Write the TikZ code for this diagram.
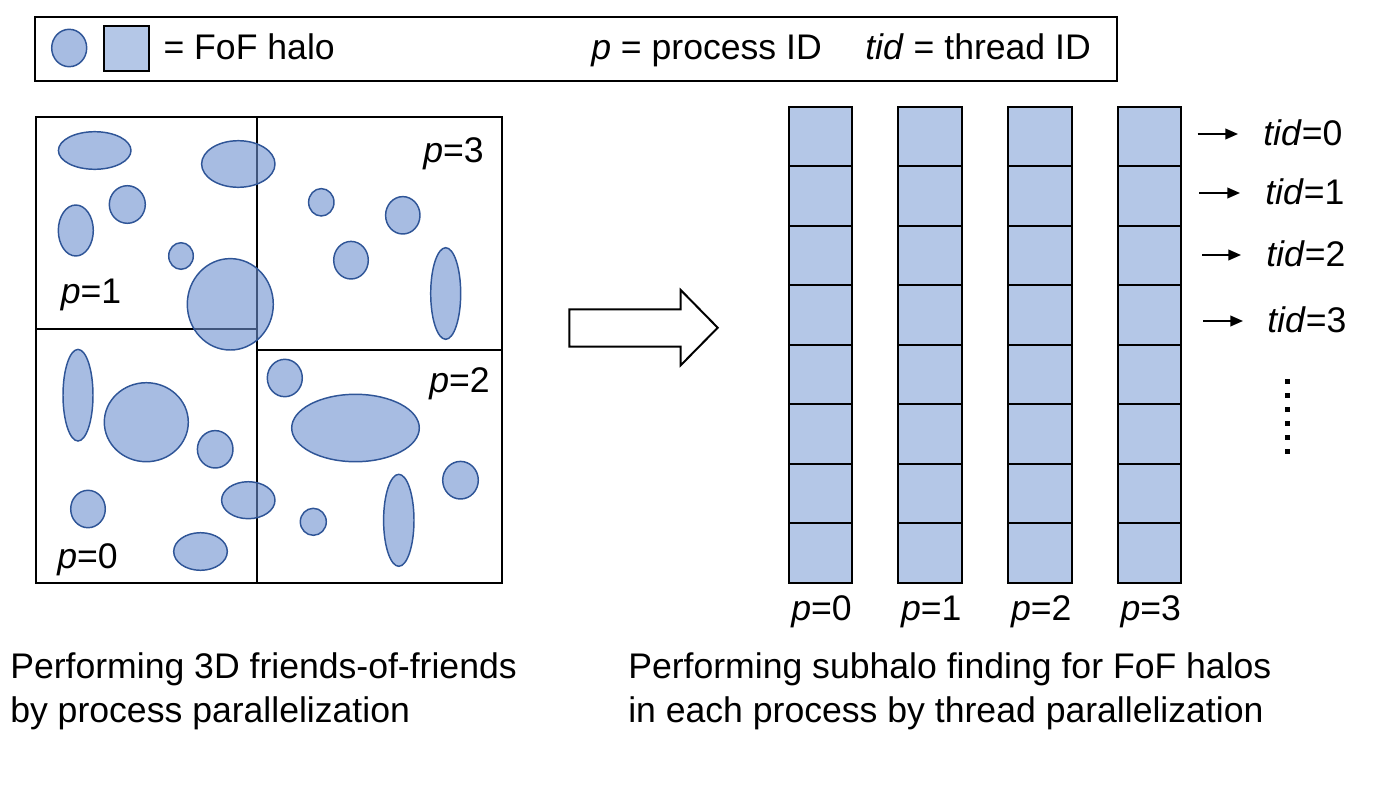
\documentclass[tikz,border=0pt]{standalone}
\usepackage{fontspec}
\setmainfont{Liberation Sans}
\usetikzlibrary{arrows.meta}
\definecolor{halofill}{HTML}{6C8FCF}
\definecolor{haloline}{HTML}{2F5597}
\definecolor{cellfill}{HTML}{B4C7E7}
\tikzset{
  halo/.style={draw=haloline, line width=1.1pt, fill=halofill, fill opacity=0.6},
  frame/.style={draw=black, line width=1.5pt},
  cellbox/.style={draw=black, line width=1.5pt, fill=cellfill},
  lbl/.style={inner sep=0pt, font=\fontsize{26.7}{32}\selectfont},
  tidarrow/.style={line width=1.3pt, -{Triangle[length=9.5pt,width=8pt]}},
}
\begin{document}
\begin{tikzpicture}[x=0.75pt,y=-0.75pt]
\useasboundingbox (0,0) rectangle (1377,796);
% legend
\draw[frame] (35.3,17.3) rectangle (1117,80.7);
\draw[halo] (69.2,48) ellipse [x radius=17.5, y radius=18.7];
\draw[cellbox] (104,25.7) rectangle (149.3,70.7);
\node[lbl, anchor=base west] (leg1) at (163.3,59) {= FoF halo};
\node[lbl, anchor=base west] (leg2) at (591,59) {\textit{p} = process ID};
\node[lbl, anchor=base west] (leg3) at (865,59) {\textit{tid} = thread ID};
% left domain
\draw[frame] (36,117) rectangle (502,583);
\draw[frame] (257,117) -- (257,583);
\draw[frame] (36,329) -- (257,329);
\draw[frame] (257,350) -- (502,350);
% halos
\draw[halo] (94.7,150.5) ellipse [x radius=36.3, y radius=18.8];
\draw[halo] (238.3,164) ellipse [x radius=36.7, y radius=23.3];
\draw[halo] (127.3,204.5) ellipse [x radius=18, y radius=18.8];
\draw[halo] (75.8,230.5) ellipse [x radius=17.5, y radius=25.5];
\draw[halo] (181,256) ellipse [x radius=12.3, y radius=13.3];
\draw[halo] (230.3,304.3) ellipse [x radius=43, y radius=45.7];
\draw[halo] (321.3,202.3) ellipse [x radius=12.7, y radius=13.7];
\draw[halo] (402.8,215.3) ellipse [x radius=17.2, y radius=18.7];
\draw[halo] (351,260.2) ellipse [x radius=17.3, y radius=18.8];
\draw[halo] (445.7,293.5) ellipse [x radius=15, y radius=45.8];
\draw[halo] (78,395.2) ellipse [x radius=15, y radius=45.8];
\draw[halo] (146.3,422.2) ellipse [x radius=42, y radius=39.5];
\draw[halo] (215.2,449.3) ellipse [x radius=17.8, y radius=18.7];
\draw[halo] (88,509) ellipse [x radius=17.3, y radius=18.7];
\draw[halo] (248.3,500.2) ellipse [x radius=26.7, y radius=18.5];
\draw[halo] (200.5,551.5) ellipse [x radius=26.8, y radius=18.8];
\draw[halo] (284.8,378) ellipse [x radius=17.5, y radius=18.7];
\draw[halo] (355.5,428) ellipse [x radius=63.8, y radius=33.7];
\draw[halo] (460.5,480.2) ellipse [x radius=17.8, y radius=18.8];
\draw[halo] (398.8,520.3) ellipse [x radius=15.2, y radius=46];
\draw[halo] (313.3,521.8) ellipse [x radius=13, y radius=13.5];
% region labels
\node[lbl, anchor=base east] (p3) at (484,162) {\textit{p}=3};
\node[lbl, anchor=base west] (p1) at (60.5,303) {\textit{p}=1};
\node[lbl, anchor=base east] (p2) at (490,392.5) {\textit{p}=2};
\node[lbl, anchor=base west] (p0) at (57,568.5) {\textit{p}=0};
% block arrow
\draw[line width=1.5pt, fill=white] (569.3,309.3) -- (680.7,309.3) -- (680.7,290) -- (717.7,327.7) -- (680.7,365.3) -- (680.7,346.7) -- (569.3,346.7) -- cycle;
% columns
\foreach \i/\x in {0/788.5,1/898.3,2/1008.3,3/1117.7}{
  \foreach \r in {0,...,7}{
    \draw[cellbox] (\x,106.7+59.5*\r) rectangle (\x+63.5,106.7+59.5*\r+59.5);
  }
  \node[lbl, anchor=base] (col\i) at (\x+33,620) {\textit{p}=\i};
}
% tid labels
\foreach \k/\ax/\bx/\tx/\by in {0/1197.5/1238/1263/145, 1/1199/1240/1265/204, 2/1202/1241/1266/266, 3/1203/1243/1267/332}{
  \coordinate (ta\k) at (\ax,\by-11);
  \node[lbl, anchor=base west] (tid\k) at (\tx,\by) {\textit{tid}=\k};
  \draw[tidarrow] (ta\k) -- (\bx,\by-11);
}
% dots
\foreach \d in {0,...,5}{
  \fill (1284.5,378.5+14*\d) rectangle (1289.5,383.5+14*\d);
}
% captions
\node[lbl, anchor=base west] (cap1) at (10,678) {Performing 3D friends-of-friends};
\node[lbl, anchor=base west] (cap1b) at (10,722) {by process parallelization};
\node[lbl, anchor=base west] (cap2) at (628,678) {Performing subhalo finding for FoF halos};
\node[lbl, anchor=base west] (cap2b) at (628,722) {in each process by thread parallelization};
\end{tikzpicture}
\end{document}
